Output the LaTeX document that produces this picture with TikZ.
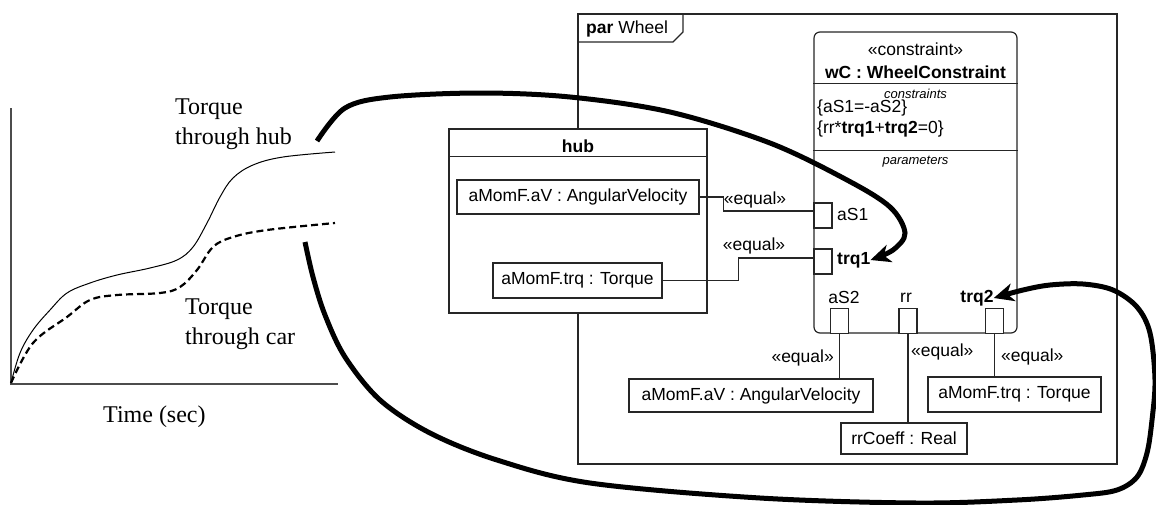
\documentclass[tikz,border=0pt]{standalone}
\usepackage{fontspec}
\setmainfont{Liberation Serif}
\setsansfont{Liberation Sans}
\usetikzlibrary{arrows.meta, positioning, calc}

\begin{document}
\begin{tikzpicture}[x=1pt, y=-1pt,
  sans/.style={font=\sffamily\fontsize{17.5}{21}\selectfont, inner sep=0pt},
  sansb/.style={font=\sffamily\bfseries\fontsize{17.5}{21}\selectfont, inner sep=0pt},
  small/.style={font=\sffamily\itshape\fontsize{13}{15}\selectfont, inner sep=0pt},
  plotlbl/.style={font=\fontsize{24}{30}\selectfont, align=left, inner sep=0pt},
  part/.style={draw=black!85, line width=1.2pt, fill=white, inner sep=0pt},
  port/.style={draw=black!85, line width=1.2pt, fill=white, minimum width=18pt, minimum height=25pt, inner sep=0pt},
  conn/.style={draw=black!85, line width=1.1pt},
  bigarrow/.style={line width=5pt, -{Stealth[length=20pt, width=18pt, inset=6pt]}}]

\useasboundingbox (0,0) rectangle (1156,504);

% ========== Torque plot ==========
\draw[black!70, line width=1.3pt] (11,108) -- (11,384) -- (338,384);
\draw[line width=1pt] plot[smooth, tension=0.6] coordinates {(11,383) (20,353) (33,330) (50,310) (67,293) (90,283) (117,275) (150,268) (177,260) (193,247) (207,223) (220,197) (233,178) (253,165) (283,157) (335,152)};
\draw[line width=2.2pt, dash pattern=on 7pt off 4pt] plot[smooth, tension=0.6] coordinates {(11,383) (33,343) (67,317) (90,300) (117,295) (160,293) (180,287) (197,270) (213,247) (233,237) (267,230) (335,223)};

\node[plotlbl, anchor=north west] (hublbl) at (175,99) {Torque\\through hub};
\node[plotlbl, anchor=north west] (carlbl) at (185,299) {Torque\\through car};
\node[plotlbl, anchor=base west] (timelbl) at (103,422) {Time (sec)};

% ========== par Wheel frame ==========
\draw[black!85, line width=1.3pt] (578,14) rectangle (1117,464);
\draw[black!85, line width=1.2pt] (578,42) -- (673,42) -- (683,32) -- (683,14);
\node[sans, anchor=west] (frametitle) at (586,29) {\textbf{par} Wheel};

% hub part
\node[part, minimum width=258pt, minimum height=184pt] (hub) at (578,221) {};
\draw[black!85, line width=1.2pt] ($(hub.north west)+(0,28)$) -- ($(hub.north east)+(0,28)$);
\node[sansb] (hubtitle) at (578,146) {hub};
\node[part, sans, minimum width=242pt, minimum height=34pt] (hubav) at (578,197) {aMomF.aV : AngularVelocity};
\node[part, sans, minimum width=169pt, minimum height=35pt] (hubtrq) at (577.5,280.5) {aMomF.trq : Torque};

% constraint property
\node[part, rounded corners=6pt, minimum width=203pt, minimum height=301pt] (wc) at (915.5,182.5) {};
\draw[black!85, line width=1.2pt] ($(wc.north west)+(0,52)$) -- ($(wc.north east)+(0,52)$);
\draw[black!85, line width=1.2pt] ($(wc.north west)+(0,119)$) -- ($(wc.north east)+(0,119)$);
\node[sans] (wcstereo) at (915.5,49) {«constraint»};
\node[sansb] (wcname) at (915.5,72) {wC : WheelConstraint};
\node[small] (wccons) at (915.5,94) {constraints};
\node[sans, anchor=west] (wceq1) at (817,108) {\{aS1=-aS2\}};
\node[sans, anchor=west] (wceq2) at (817,129) {\{rr*\textbf{trq1}+\textbf{trq2}=0\}};
\node[small] (wcpars) at (915.5,162) {parameters};

% ports
\node[port] (paS1) at (823,215.5) {};
\node[port] (ptrq1) at (823,261.5) {};
\node[port] (paS2) at (839.5,321) {};
\node[port] (prr) at (908,321) {};
\node[port] (ptrq2) at (994.5,321) {};
\node[sans, anchor=west] (aS1lbl) at (837,214) {aS1};
\node[sansb, anchor=west] (trq1lbl) at (837,260) {trq1};
\node[sans] (aS2lbl) at (844,297) {aS2};
\node[sans] (rrlbl) at (906,298) {rr};
\node[sansb] (trq2lbl) at (977,298) {trq2};

% value properties below
\node[part, sans, minimum width=244pt, minimum height=33pt] (av2) at (751,395.5) {aMomF.aV : AngularVelocity};
\node[part, sans, minimum width=126pt, minimum height=31pt] (rrc) at (904,438.5) {rrCoeff : Real};
\node[part, sans, minimum width=173pt, minimum height=35pt] (trqb) at (1014.5,394.5) {aMomF.trq : Torque};

% binding connectors
\draw[conn] (hubav.east) -- ++(24,0) |- ([yshift=4.5pt]paS1.west);
\node[sans] (eq1) at (755,200) {«equal»};
\draw[conn] (hubtrq.east) -- ++(76,0) |- ([yshift=3.5pt]ptrq1.west);
\node[sans] (eq2) at (754,246) {«equal»};
\draw[conn] (paS2.south) -- (paS2.south |- av2.north);
\node[sans, anchor=east] (eq3) at (834,358) {«equal»};
\draw[conn] (prr.south) -- (prr.south |- rrc.north);
\node[sans, anchor=west] (eq4) at (911,352) {«equal»};
\draw[conn] (ptrq2.south) -- (ptrq2.south |- trqb.north);
\node[sans, anchor=west] (eq5) at (1001,357) {«equal»};

% ========== mapping arrows ==========
\coordinate (hubend) at (317,141);
\coordinate (carend) at (305,242);
\draw[bigarrow] plot[smooth, tension=0.55] coordinates {(hubend) (345,108) (390,97) (480,93) (570,97) (670,112) (770,143) (847,180) (890,207) (905,233) (893,250) (trq1lbl.east)};
\draw[bigarrow] plot[smooth, tension=0.55] coordinates {(carend) (313,277) (325,315) (345,357) (380,400) (430,433) (497,460) (590,483) (760,498) (917,503) (1017,500) (1083,495) (1117,490) (1137,477) (1147,453) (1152,420) (1155,380) (1150,333) (1137,307) (1113,290) (1083,284) (1050,285) (1023,290) (trq2lbl.east)};

\end{tikzpicture}
\end{document}
